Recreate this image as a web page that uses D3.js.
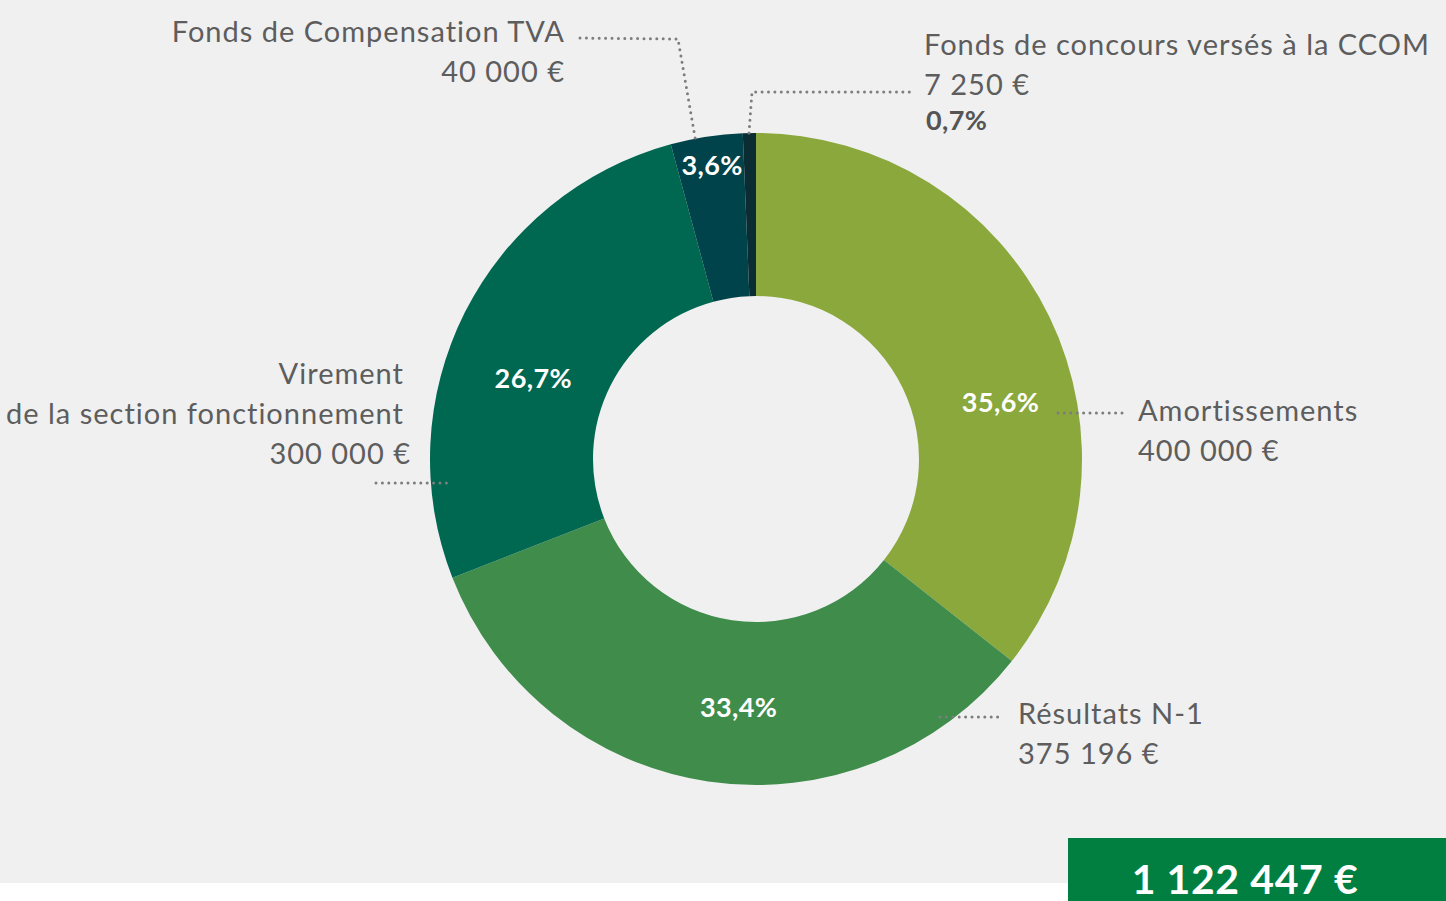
<!DOCTYPE html>
<html>
<head>
<meta charset="utf-8">
<script src="https://cdn.jsdelivr.net/npm/d3@7"></script>
<style>
  body { margin: 0; background: #f0f0f0; overflow: hidden; }
  svg { display: block; font-family: Lato, "Open Sans", sans-serif; }
</style>
</head>
<body>
<svg width="1446" height="901"></svg>
<script>
// data
var categories = ['Amortissements', 'Résultats N-1', 'Virement de la section fonctionnement',
                  'Fonds de Compensation TVA', 'Fonds de concours versés à la CCOM'];
var nameLines = [['Amortissements'], ['Résultats N-1'], ['Virement', 'de la section fonctionnement'],
                 ['Fonds de Compensation TVA'], ['Fonds de concours versés à la CCOM']];
var values = [400000, 375196, 300000, 40000, 7250];
var pctLabels = ['35,6%', '33,4%', '26,7%', '3,6%', '0,7%'];
var colors = ['#8aa83c', '#3f8c4b', '#006850', '#00434a', '#0b2c32'];
var totalLabel = '1 122 447 €';

// label placement (pixels), kept apart from data
var layout = [
  { x: 1138, y: 421, anchor: 'start', pctAngle: 77, pctR: 251, leader: [[1058, 413], [1124, 413]] },
  { x: 1018, y: 724, anchor: 'start', pctAngle: 184, pctR: 249, leader: [[940, 717], [1004, 717]] },
  { x: 404, y: 384, anchor: 'end', amountDx: 7, pctAngle: 290, pctR: 237, leader: [[376, 483], [450, 483]] },
  { x: 565, y: 42, anchor: 'end', pctAngle: 351.5, pctR: 297, leader: [[580, 38], [678, 39], [696, 143]] },
  { x: 924, y: 55, anchor: 'start', pctOutside: true, leader: [[749, 133], [752, 92], [910, 92]] }
];

var svg = d3.select('svg'),
    width = +svg.attr('width'),
    height = +svg.attr('height'),
    cx = 756, cy = 459,
    outerR = 326, innerR = 163,
    lineH = 40;

var fr = d3.formatLocale({ decimal: ',', thousands: '\u00a0', grouping: [3], currency: ['', '\u00a0€'] });
var fmtAmount = fr.format('$,');

var pie = d3.pie().sort(null).value(function(d) { return d; });
var arc = d3.arc().innerRadius(innerR).outerRadius(outerR);
var arcs = pie(values);

// white strip at the bottom
svg.append('rect')
    .attr('x', 0).attr('y', 883).attr('width', 1068).attr('height', height - 883)
    .attr('fill', '#ffffff');

var g = svg.append('g').attr('transform', 'translate(' + cx + ',' + cy + ')');

g.selectAll('path.slice')
  .data(arcs)
  .enter().append('path')
    .attr('class', 'slice')
    .attr('d', arc)
    .attr('fill', function(d, i) { return colors[i]; });

// dotted leaders
svg.selectAll('path.leader')
  .data(layout)
  .enter().append('path')
    .attr('class', 'leader')
    .attr('d', function(d) { return d3.line()(d.leader); })
    .attr('fill', 'none')
    .attr('stroke', '#7d7d7d')
    .attr('stroke-width', 3)
    .attr('stroke-linecap', 'round')
    .attr('stroke-dasharray', '0,6.4');

// percentages inside the ring
arcs.forEach(function(a, i) {
  var L = layout[i];
  if (L.pctOutside) return;
  var ang = L.pctAngle * Math.PI / 180;
  g.append('text')
      .attr('x', L.pctR * Math.sin(ang))
      .attr('y', -L.pctR * Math.cos(ang))
      .attr('dy', '0.36em')
      .attr('text-anchor', 'middle')
      .attr('fill', '#ffffff')
      .attr('font-weight', 700)
      .attr('font-size', 27)
      .attr('letter-spacing', 0.4)
      .text(pctLabels[i]);
});

// outside labels: name lines then amount
layout.forEach(function(L, i) {
  var t = svg.append('text')
      .attr('text-anchor', L.anchor)
      .attr('fill', '#5d5d5d')
      .attr('font-size', 29)
      .attr('letter-spacing', 1);
  nameLines[i].forEach(function(line, k) {
    t.append('tspan').attr('x', L.x).attr('y', L.y + k * lineH).text(line);
  });
  var n = nameLines[i].length;
  t.append('tspan')
      .attr('x', L.x + (L.amountDx || 0))
      .attr('y', L.y + n * lineH)
      .text(fmtAmount(values[i]));
  if (L.pctOutside) {
    svg.append('text')
        .attr('x', L.x + 2)
        .attr('y', L.y + n * lineH + 35)
        .attr('fill', '#555555')
        .attr('font-weight', 700)
        .attr('font-size', 27)
        .attr('letter-spacing', 0.4)
        .text(pctLabels[i]);
  }
});

// total box
svg.append('rect')
    .attr('x', 1068).attr('y', 838).attr('width', width - 1068).attr('height', height - 838)
    .attr('fill', '#007f41');
svg.append('text')
    .attr('x', 1245).attr('y', 894)
    .attr('text-anchor', 'middle')
    .attr('fill', '#ffffff')
    .attr('font-weight', 700)
    .attr('font-size', 41)
    .attr('letter-spacing', 0.6)
    .text(totalLabel);
</script>
</body>
</html>
